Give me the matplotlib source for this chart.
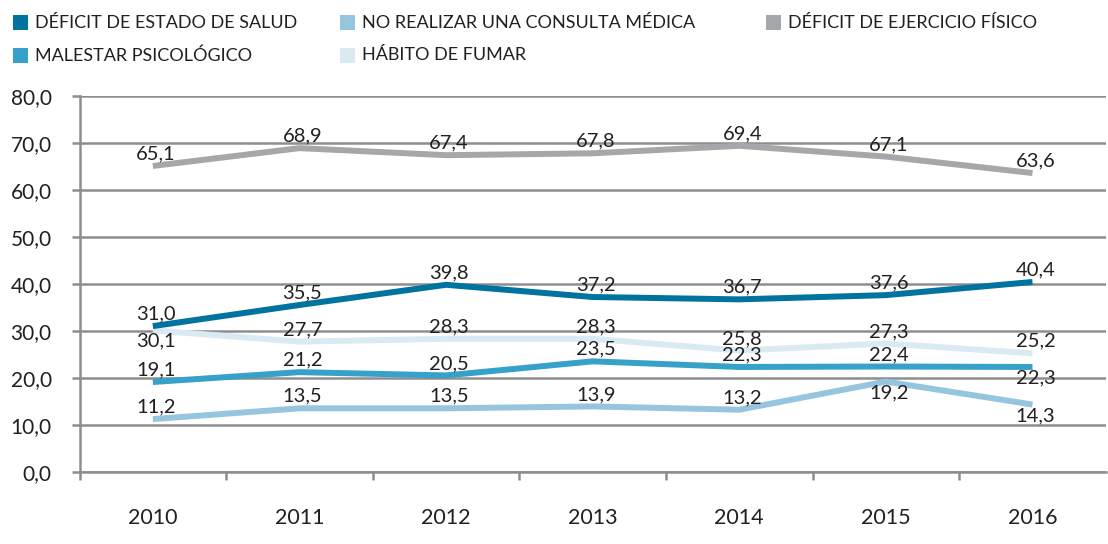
import matplotlib
matplotlib.use('Agg')
import matplotlib.pyplot as plt
from matplotlib.patches import Rectangle

plt.rcParams['font.family'] = ['Lato', 'DejaVu Sans']

# Datos del gráfico
years = ['2010', '2011', '2012', '2013', '2014', '2015', '2016']
salud = [31.0, 35.5, 39.8, 37.2, 36.7, 37.6, 40.4]
consulta = [11.2, 13.5, 13.5, 13.9, 13.2, 19.2, 14.3]
ejercicio = [65.1, 68.9, 67.4, 67.8, 69.4, 67.1, 63.6]
psicologico = [19.1, 21.2, 20.5, 23.5, 22.3, 22.4, 22.3]
fumar = [30.1, 27.7, 28.3, 28.3, 25.8, 27.3, 25.2]

names = ['DÉFICIT DE ESTADO DE SALUD', 'NO REALIZAR UNA CONSULTA MÉDICA',
         'DÉFICIT DE EJERCICIO FÍSICO', 'MALESTAR PSICOLÓGICO', 'HÁBITO DE FUMAR']
series = [salud, consulta, ejercicio, psicologico, fumar]
colors = ['#00739f', '#96c6df', '#a6a7aa', '#36a1c9', '#d9eaf3']

# etiquetas debajo de la línea (serie, índice)
below = {(4, 0), (3, 6), (1, 6), (1, 5)}

text_color = '#231f20'
grid_color = '#8e8e90'

W, H = 1108, 544
fig = plt.figure(figsize=(W / 100, H / 100), dpi=100)
ax = fig.add_axes([0.0718, 0.1329, 0.9262, 0.6906])

x = list(range(len(years)))
# orden de dibujo: la gris al fondo
order = [2, 4, 1, 3, 0]
for k, i in enumerate(order):
    ax.plot(x, series[i], color=colors[i], lw=4.3, solid_capstyle='butt',
            solid_joinstyle='round', zorder=3 + k)

for i, vals in enumerate(series):
    for j, v in enumerate(vals):
        dy = -11 if (i, j) in below else 12
        ax.annotate(f'{v:.1f}'.replace('.', ','), (j, v), xytext=(3, dy),
                    textcoords='offset pixels', ha='center', va='center',
                    fontsize=14.5, color=text_color, zorder=10)

ax.set_xlim(-0.5, 6.5)
ax.set_ylim(0, 80)
ax.set_yticks(range(0, 81, 10))
ax.set_yticklabels([f'{v},0' for v in range(0, 81, 10)], fontsize=15, color=text_color)
ax.set_xticks(x)
ax.set_xticklabels(years, fontsize=15.5, color=text_color)
ax.set_xticks([i - 0.5 for i in range(len(years))], minor=True)

ax.grid(axis='y', color=grid_color, lw=1.8, zorder=1)
ax.set_axisbelow(True)
for s in ['top', 'right']:
    ax.spines[s].set_visible(False)
for s in ['left', 'bottom']:
    ax.spines[s].set_color(grid_color)
    ax.spines[s].set_linewidth(1.8)

ax.tick_params(axis='y', length=6, width=1.8, color=grid_color, pad=14)
ax.tick_params(axis='x', which='major', length=0, pad=26)
ax.tick_params(axis='x', which='minor', length=6, width=1.8, color=grid_color)

# leyenda manual (posiciones en píxeles)
legend_pos = [(13, 15), (340, 15), (766, 15), (13, 48), (340, 48)]
for (px, py), name, c in zip(legend_pos, names, colors):
    fig.add_artist(Rectangle((px / W, 1 - (py + 15) / H), 15 / W, 15 / H,
                             transform=fig.transFigure, color=c, lw=0))
    fig.text((px + 22) / W, 1 - (py + 7.5) / H, name, fontsize=13,
             color=text_color, va='center', ha='left')

fig.savefig('out.png', dpi=100)
